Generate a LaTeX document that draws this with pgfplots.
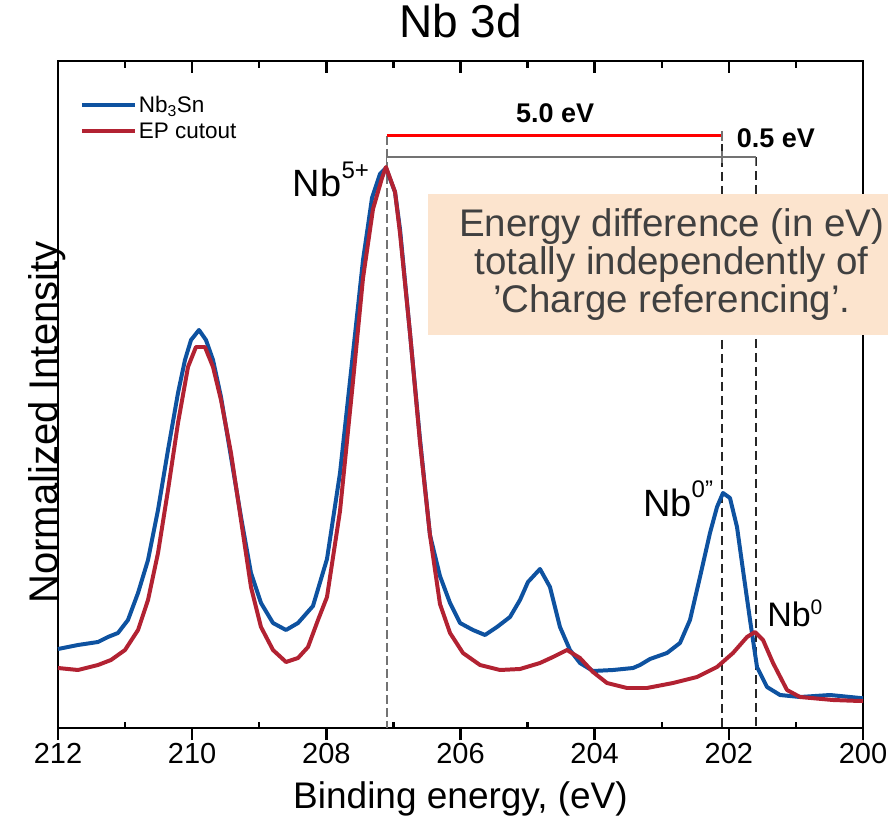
\documentclass[border=0pt]{standalone}
\usepackage{fontspec}
\setmainfont{Liberation Sans}
\usepackage{pgfplots}
\pgfplotsset{compat=1.18}
\definecolor{nbblue}{RGB}{14,82,160}
\definecolor{nbred}{RGB}{178,34,50}
\definecolor{boxfill}{RGB}{252,228,206}
\definecolor{boxtext}{RGB}{64,64,64}

\pgfplotsset{
  xpsframe/.style={
    at={(0,0)}, anchor=south west, scale only axis,
    width=805bp, height=667bp,
    xmin=200, xmax=212, x dir=reverse, ymin=0, ymax=667,
    tick style={line width=2.4pt, black},
  }
}

\begin{document}
\begin{tikzpicture}
\begin{axis}[xpsframe, clip=false,
  axis line style={line width=2.8pt},
  xtick={200,202,...,212}, xtick pos=left, tick align=outside, major tick length=12bp,
  ytick=\empty,
  /pgf/number format/assume math mode=true,
  xticklabel style={font=\fontsize{29bp}{34bp}\selectfont, yshift=0bp},
  title={Nb 3d},
  title style={at={(axis description cs:0.5,1)}, anchor=center, yshift=34bp, font=\fontsize{46bp}{52bp}\selectfont},
  xlabel={Binding energy, (eV)},
  xlabel style={at={(axis description cs:0.5,0)}, anchor=base, yshift=-80bp, font=\fontsize{37bp}{42bp}\selectfont},
  ylabel={Normalized Intensity},
  ylabel style={at={(axis description cs:0,0.482)}, anchor=base, xshift=-16bp, font=\fontsize{40bp}{46bp}\selectfont},
  legend style={at={(axis cs:211.72,636)}, anchor=north west, draw=none, fill=none,
    font=\fontsize{22.5bp}{26bp}\selectfont, row sep=5bp},
  legend cell align=left,
  legend image code/.code={\draw[#1, line width=4pt] (0bp,0bp) -- (53bp,0bp);},
]
% guide lines (under the curves)
\draw[black!55, dash pattern=on 9bp off 4bp, line width=1.8pt] (axis cs:207.1,592) -- (axis cs:207.1,0);
\draw[black!85, dash pattern=on 9bp off 5bp, line width=1.8pt] (axis cs:202.1,584) -- (axis cs:202.1,0);
\draw[black!85, dash pattern=on 9bp off 5bp, line width=1.8pt] (axis cs:201.6,571) -- (axis cs:201.6,0);

\addplot[nbblue, line width=4pt, line join=round] coordinates {
(212.000,79) (211.702,83) (211.404,86) (211.255,91) (211.106,95) (210.957,108)
(210.807,135) (210.658,168) (210.509,218) (210.360,278) (210.211,335) (210.107,368)
(210.017,388) (209.898,398) (209.794,388) (209.689,368) (209.570,331) (209.421,271)
(209.272,211) (209.123,155) (208.974,125) (208.795,105) (208.601,98) (208.422,105)
(208.199,122) (207.990,169) (207.796,255) (207.602,375) (207.453,468) (207.319,530)
(207.200,554) (207.111,560) (206.976,536) (206.902,499) (206.753,395) (206.604,289)
(206.455,193) (206.306,152) (206.156,125) (206.007,105) (205.814,98) (205.635,93)
(205.456,101) (205.262,111) (205.113,128) (204.994,146) (204.815,159) (204.666,141)
(204.517,101) (204.368,78) (204.219,65) (204.025,57) (203.727,58) (203.428,60)
(203.324,63) (203.175,69) (202.922,75) (202.728,85) (202.579,108) (202.430,151)
(202.281,195) (202.176,221) (202.087,235) (201.983,230) (201.878,201) (201.789,158)
(201.684,108) (201.580,61) (201.431,41) (201.237,33) (200.939,31) (200.492,33)
(200.045,30) (200.000,30)
};
\addlegendentry{Nb\textsubscript{3}Sn}
\addplot[nbred, line width=4pt, line join=round] coordinates {
(212.000,60) (211.702,58) (211.404,63) (211.210,68) (211.001,78) (210.807,98)
(210.658,128) (210.509,175) (210.360,238) (210.211,305) (210.062,361) (209.943,381)
(209.809,381) (209.689,361) (209.570,328) (209.421,275) (209.272,208) (209.123,141)
(208.974,101) (208.795,78) (208.601,66) (208.422,70) (208.273,81) (208.124,108)
(207.990,131) (207.796,217) (207.602,347) (207.453,450) (207.304,519) (207.170,550)
(207.111,561) (206.976,536) (206.902,495) (206.753,395) (206.604,286) (206.455,193)
(206.306,124) (206.156,95) (205.963,75) (205.709,63) (205.411,58) (205.113,59)
(204.815,65) (204.621,71) (204.412,78) (204.219,70) (204.025,56) (203.816,45)
(203.518,40) (203.220,40) (202.832,45) (202.474,51) (202.176,61) (201.938,75)
(201.729,91) (201.610,96) (201.490,88) (201.341,65) (201.133,38) (200.939,31)
(200.447,28) (200.045,27) (200.000,27)
};
\addlegendentry{EP cutout}

% energy-difference bars
\draw[red, line width=3pt] (axis cs:207.1,592) -- (axis cs:202.1,592);
\draw[black!55, line width=1.5pt] (axis cs:202.1,597) -- (axis cs:202.1,587);
\draw[black!55, line width=2pt] (axis cs:207.1,571) -- (axis cs:201.6,571);
\draw[black!55, line width=1.5pt] (axis cs:207.1,577) -- (axis cs:207.1,565);
\draw[black!55, line width=1.5pt] (axis cs:202.1,577) -- (axis cs:202.1,565);
\draw[black!55, line width=1.5pt] (axis cs:201.6,571) -- (axis cs:201.6,562);
\node[font=\bfseries\fontsize{27bp}{30bp}\selectfont] at (axis cs:204.59,615) {5.0 eV};
\node[font=\bfseries\fontsize{27bp}{30bp}\selectfont] at (axis cs:201.30,590) {0.5 eV};

% peak labels
\node[anchor=base west, inner sep=0pt, font=\fontsize{38bp}{44bp}\selectfont] at (axis cs:208.50,531)
  {Nb\raisebox{18bp}{\fontsize{24bp}{26bp}\selectfont 5+}};
\node[anchor=base west, inner sep=0pt, font=\fontsize{38bp}{44bp}\selectfont] at (axis cs:203.28,211)
  {Nb\raisebox{19bp}{\fontsize{24bp}{26bp}\selectfont 0"}};
\node[anchor=base west, inner sep=0pt, font=\fontsize{34bp}{40bp}\selectfont] at (axis cs:201.43,101)
  {Nb\raisebox{12bp}{\fontsize{21bp}{24bp}\selectfont 0}};
\end{axis}

% top ticks, all pointing inward
\begin{axis}[xpsframe, axis x line*=top, axis y line=none, axis line style={draw=none},
  xtick={200,202,...,212}, minor xtick={201,203,...,211}, xticklabels={},
  tick align=inside, major tick length=12bp, minor tick length=7bp, clip=false]
% annotation box on top of the frame
\fill[boxfill] (axis cs:206.484,393) rectangle (axis cs:199.627,534);
\node[align=center, text=boxtext, font=\fontsize{38.5bp}{38bp}\selectfont] at (axis cs:202.85,463)
  {Energy difference (in eV)\\totally independently of\\’Charge referencing’.};
\end{axis}

% bottom minor ticks, pointing inward
\begin{axis}[xpsframe, axis x line*=bottom, axis y line=none, axis line style={draw=none},
  xtick={201,203,...,211}, xticklabels={},
  tick align=inside, major tick length=6bp]
\end{axis}

\pgfresetboundingbox
\path[use as bounding box] (-58bp,-95bp) rectangle (832bp,728bp);
\end{tikzpicture}
\end{document}
